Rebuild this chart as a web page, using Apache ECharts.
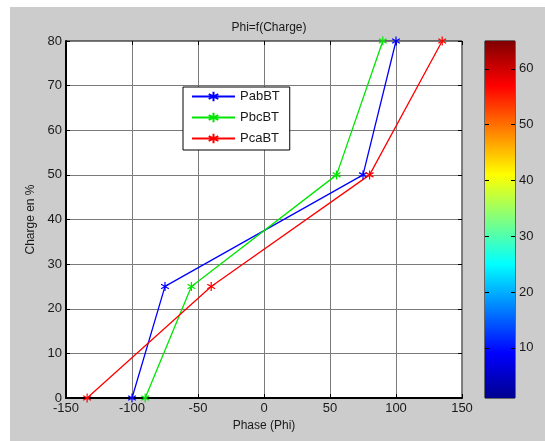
<!DOCTYPE html>
<html>
<head>
<meta charset="utf-8">
<script src="https://cdn.jsdelivr.net/npm/echarts@6/dist/echarts.min.js"></script>
<style>
html,body{margin:0;padding:0;background:#fff;}
#bg{position:absolute;left:10px;top:7px;width:535px;height:434px;background:#cccccc;}
#chart{position:absolute;left:0;top:0;width:545px;height:441px;}
</style>
</head>
<body>
<div id="bg"></div>
<div id="chart"></div>
<script>
// Data
const chargeLevels = [0, 25, 50, 80];
const phaseAB = [-100, -75, 75, 100];
const phaseBC = [-90, -55, 55, 90];
const phaseCA = [-134, -40, 80, 135];
const seriesNames = ['PabBT', 'PbcBT', 'PcaBT'];
const seriesColors = ['#0000ff', '#00e600', '#ff0000'];
const xTicks = {min: -150, max: 150, interval: 50};
const yTicks = {min: 0, max: 80, interval: 10};
const colorbarRange = [1, 65];
const colorbarTicks = [10, 20, 30, 40, 50, 60];

const FONT = 'Liberation Sans, Arial, sans-serif';
const TXT = '#1a1a1a';
const star = 'path://M0,-10L0,10M-8.66,-5L8.66,5M-8.66,5L8.66,-5';

function pairs(xs) { return xs.map((x, i) => [x, chargeLevels[i]]); }

const jet = [
  {offset: 0, color: '#800000'},
  {offset: 0.125, color: '#ff0000'},
  {offset: 0.375, color: '#ffff00'},
  {offset: 0.625, color: '#00ffff'},
  {offset: 0.875, color: '#0000ff'},
  {offset: 1, color: '#000090'}
];

const chart = echarts.init(document.getElementById('chart'), null, {renderer: 'canvas'});
const mainGrid = {left: 66, top: 41, right: 83, bottom: 43};
const cbGrid = {left: 485, top: 41, right: 30, bottom: 43};

const lineSeries = [phaseAB, phaseBC, phaseCA].map((d, i) => ({
  name: seriesNames[i],
  type: 'line',
  xAxisIndex: 0, yAxisIndex: 0,
  data: pairs(d),
  symbol: star,
  symbolSize: 9,
  symbolKeepAspect: true,
  showAllSymbol: true,
  lineStyle: {color: seriesColors[i], width: 1.3},
  itemStyle: {color: seriesColors[i], borderColor: seriesColors[i], borderWidth: 1.2},
  animation: false,
  z: 3
}));

chart.setOption({
  animation: false,
  backgroundColor: 'transparent',
  textStyle: {fontFamily: FONT},
  title: {
    text: 'Phi=f(Charge)', left: 264, top: 17, textAlign: 'center',
    textStyle: {fontFamily: FONT, fontSize: 12, fontWeight: 'normal', color: TXT}
  },
  legend: {
    orient: 'vertical', left: 183, top: 87,
    padding: [3, 10, 5, 8],
    itemWidth: 43, itemHeight: 12, itemGap: 8,
    backgroundColor: '#fff', borderColor: '#000', borderWidth: 1,
    textStyle: {fontFamily: FONT, fontSize: 13, color: TXT, lineHeight: 12},
    data: seriesNames
  },
  grid: [
    Object.assign({show: true, backgroundColor: '#fff', borderColor: '#000', borderWidth: 1}, mainGrid),
    Object.assign({show: true, backgroundColor: 'transparent', borderColor: '#000', borderWidth: 1}, cbGrid)
  ],
  xAxis: [
    {
      type: 'value', gridIndex: 0, min: xTicks.min, max: xTicks.max, interval: xTicks.interval,
      position: 'bottom',
      name: 'Phase (Phi)', nameLocation: 'middle', nameGap: 22,
      nameTextStyle: {fontFamily: FONT, fontSize: 12, color: TXT},
      axisLine: {show: true, onZero: false, lineStyle: {color: '#000', width: 2}},
      axisTick: {show: true, inside: true, length: 4, lineStyle: {color: '#000'}},
      axisLabel: {fontFamily: FONT, fontSize: 13, color: TXT, margin: 4},
      splitLine: {show: true, lineStyle: {color: '#7a7a7a', width: 1}}
    },
    {
      type: 'value', gridIndex: 0, min: xTicks.min, max: xTicks.max, interval: xTicks.interval,
      position: 'top',
      axisLine: {show: false, onZero: false},
      axisTick: {show: true, inside: true, length: 4, lineStyle: {color: '#000'}},
      axisLabel: {show: false},
      splitLine: {show: false}
    },
    {
      type: 'category', gridIndex: 1, data: ['c'], show: false, boundaryGap: true
    }
  ],
  yAxis: [
    {
      type: 'value', gridIndex: 0, min: yTicks.min, max: yTicks.max, interval: yTicks.interval,
      position: 'left',
      name: 'Charge en %', nameLocation: 'middle', nameGap: 29,
      nameTextStyle: {fontFamily: FONT, fontSize: 12, color: TXT},
      axisLine: {show: true, onZero: false, lineStyle: {color: '#000', width: 2}},
      axisTick: {show: true, inside: true, length: 4, lineStyle: {color: '#000'}},
      axisLabel: {fontFamily: FONT, fontSize: 13, color: TXT, margin: 4},
      splitLine: {show: true, lineStyle: {color: '#7a7a7a', width: 1}}
    },
    {
      type: 'value', gridIndex: 0, min: yTicks.min, max: yTicks.max, interval: yTicks.interval,
      position: 'right',
      axisLine: {show: false, onZero: false},
      axisTick: {show: true, inside: true, length: 4, lineStyle: {color: '#000'}},
      axisLabel: {show: false},
      splitLine: {show: false}
    },
    {
      type: 'value', gridIndex: 1, min: colorbarRange[0], max: colorbarRange[1],
      position: 'right',
      axisLine: {show: false, onZero: false},
      axisTick: {show: true, inside: true, length: 4, lineStyle: {color: '#000', width: 1},
        customValues: colorbarTicks},
      axisLabel: {fontFamily: FONT, fontSize: 13, color: TXT, margin: 4,
        customValues: colorbarTicks},
      splitLine: {show: false},
      z: 5
    },
    {
      type: 'value', gridIndex: 1, min: colorbarRange[0], max: colorbarRange[1],
      position: 'left',
      axisLine: {show: false, onZero: false},
      axisTick: {show: true, inside: true, length: 4, lineStyle: {color: '#000', width: 1},
        customValues: colorbarTicks},
      axisLabel: {show: false},
      splitLine: {show: false},
      z: 5
    }
  ],
  series: lineSeries.concat([{
    type: 'bar', xAxisIndex: 2, yAxisIndex: 2,
    data: [colorbarRange[1]],
    barWidth: '100%',
    silent: true,
    itemStyle: {color: new echarts.graphic.LinearGradient(0, 0, 0, 1, jet)},
    z: 1
  }])
});
</script>
</body>
</html>
